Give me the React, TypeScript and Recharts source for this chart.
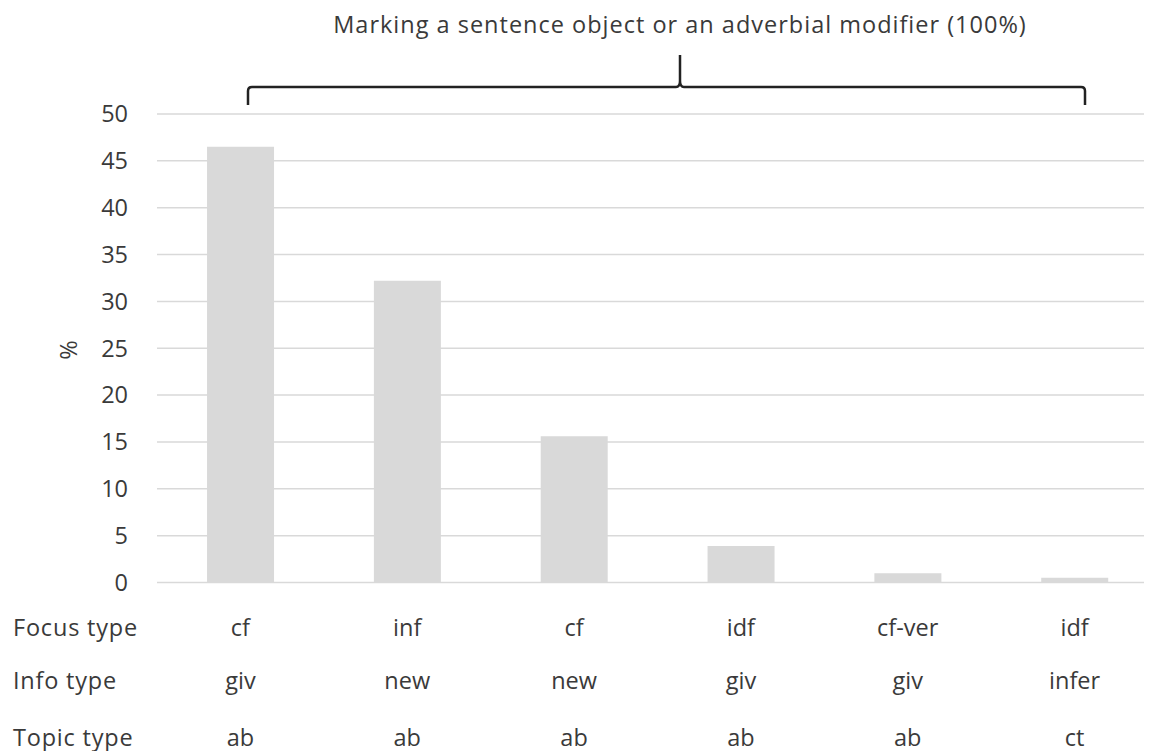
import React from 'react';
import { BarChart, Bar, XAxis, YAxis, CartesianGrid } from 'recharts';

// values (%)
const focusTypes = ['cf', 'inf', 'cf', 'idf', 'cf-ver', 'idf'];
const infoTypes = ['giv', 'new', 'new', 'giv', 'giv', 'infer'];
const topicTypes = ['ab', 'ab', 'ab', 'ab', 'ab', 'ct'];
const percentages = [46.5, 32.2, 15.6, 3.9, 1.0, 0.5];
const yTicks = [0, 5, 10, 15, 20, 25, 30, 35, 40, 45, 50];
const rowLabels = ['Focus type', 'Info type', 'Topic type'];
const title = 'Marking a sentence object or an adverbial modifier (100%)';

const FONT = '"Open Sans", "Noto Sans", sans-serif';
const FS = 23.5;
const TEXT = '#3a3a3a';
const GREY = '#d9d9d9';

const data = percentages.map((v, i) => ({
  key: `c${i}`,
  focus: focusTypes[i],
  info: infoTypes[i],
  topic: topicTypes[i],
  value: v,
}));

const rowOffsets = [36, 89, 146];

const CategoryTick = ({ x, y, index }: any) => {
  const d = data[index];
  const vals = [d.focus, d.info, d.topic];
  return (
    <g>
      {vals.map((v, i) => (
        <text key={i} x={x} y={y + rowOffsets[i]} textAnchor="middle" dominantBaseline="central"
          fontFamily={FONT} fontSize={FS} fill={TEXT}>{v}</text>
      ))}
      {index === 0 && rowLabels.map((r, i) => (
        <text key={'r' + i} x={5} y={y + rowOffsets[i]} textAnchor="start" dominantBaseline="central"
          fontFamily={FONT} fontSize={FS} letterSpacing={0.8} fill={TEXT}>{r}</text>
      ))}
    </g>
  );
};

export default function App() {
  return (
    <div style={{ position: 'relative', width: 1144, height: 743, overflow: 'hidden' }}>
      <BarChart width={1160} height={743} data={data}
        margin={{ top: 106, right: 10, bottom: 0, left: 0 }} barCategoryGap="30%">
        <CartesianGrid vertical={false} stroke={GREY} strokeWidth={1.5} />
        <XAxis dataKey="key" height={168.5} axisLine={false} tickLine={false}
          interval={0} tick={<CategoryTick />} />
        <YAxis domain={[0, 50]} ticks={yTicks} width={149} axisLine={false} tickLine={false}
          tickMargin={23} tick={{ fontFamily: FONT, fontSize: FS, fill: TEXT }} />
        <Bar dataKey="value" fill={GREY} isAnimationActive={false} />
      </BarChart>
      <svg width={1144} height={743} style={{ position: 'absolute', left: 0, top: 0, pointerEvents: 'none' }}>
        <text x={672} y={16} textAnchor="middle" dominantBaseline="central"
          fontFamily={FONT} fontSize={FS} letterSpacing={1} fill={TEXT}>{title}</text>
        <path d="M240 97 L240 83 Q240 79 244 79 L668 79 Q672 79 672 73 L672 47 M672 73 Q672 79 676 79 L1073 79 Q1077 79 1077 83 L1077 97"
          fill="none" stroke="#222" strokeWidth={2.5} />
        <text x={60} y={342} textAnchor="middle" dominantBaseline="central"
          transform="rotate(-90 60 342)" fontFamily={FONT} fontSize={FS} fill={TEXT}>%</text>
      </svg>
    </div>
  );
}
